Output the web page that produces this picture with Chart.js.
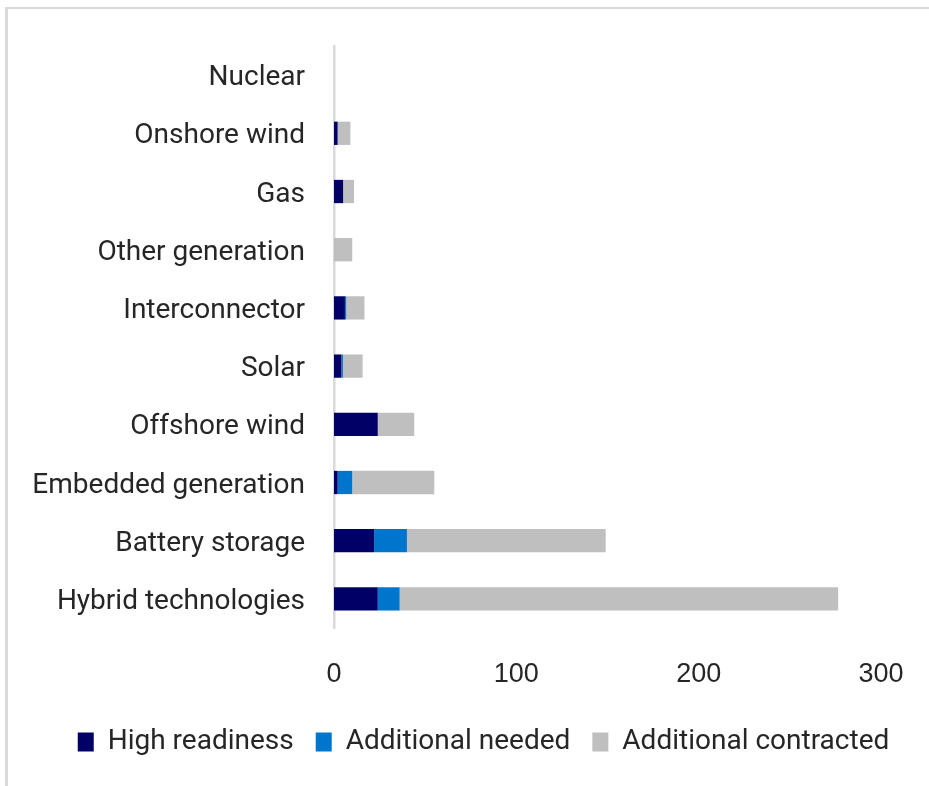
<!DOCTYPE html>
<html>
<head>
<meta charset="utf-8">
<script src="https://cdn.jsdelivr.net/npm/chart.js@4/dist/chart.umd.min.js"></script>
<style>
  html, body { margin: 0; padding: 0; background: #ffffff; overflow: hidden; }
  #frame {
    position: absolute; left: 5px; top: 7px; width: 1000px; height: 900px;
    border-left: 3px solid #d9d9d9; border-top: 2px solid #d9d9d9;
    box-sizing: border-box;
  }
  #c { position: absolute; left: 0; top: 0; }
</style>
</head>
<body>
<div id="frame"></div>
<canvas id="c" width="929" height="786"></canvas>
<script>
const categories = [
  'Nuclear', 'Onshore wind', 'Gas', 'Other generation', 'Interconnector',
  'Solar', 'Offshore wind', 'Embedded generation', 'Battery storage', 'Hybrid technologies'
];
const highReadiness        = [0, 2, 5, 0, 6, 4, 24, 2, 22, 24];
const additionalNeeded     = [0, 0, 0, 0, 0.7, 0.9, 0, 8, 18, 12];
const additionalContracted = [0, 7, 6, 10, 10, 10.8, 20, 45, 109, 240.5];
const xTicks = [0, 100, 200, 300];

const textColor = '#262626';
const labelFont = "Roboto, 'Liberation Sans', sans-serif";

// Shift the legend row a little to the right of the canvas centre.
const legendSpan = {
  id: 'legendSpan',
  afterLayout(chart) {
    chart.legend.left = 19;
    chart.legend.right = 948;
  }
};

new Chart(document.getElementById('c'), {
  type: 'bar',
  data: {
    labels: categories,
    datasets: [
      { label: 'High readiness', data: highReadiness, backgroundColor: '#000066' },
      { label: 'Additional needed', data: additionalNeeded, backgroundColor: '#0075CC' },
      { label: 'Additional contracted', data: additionalContracted, backgroundColor: '#BFBFBF' }
    ]
  },
  plugins: [legendSpan],
  options: {
    indexAxis: 'y',
    responsive: false,
    animation: false,
    layout: { padding: { left: 0, right: 48, top: 46, bottom: 20 } },
    datasets: { bar: { barPercentage: 0.4, categoryPercentage: 1 } },
    scales: {
      x: {
        stacked: true,
        min: 0, max: 300,
        afterBuildTicks: s => { s.ticks = xTicks.map(v => ({ value: v })); },
        grid: { display: false, drawTicks: false },
        border: { display: false },
        ticks: {
          color: textColor,
          padding: 30,
          font: { family: "'Liberation Sans', Arial, sans-serif", size: 27 }
        },
        afterFit: s => { s.height = 78; s.paddingLeft = 0; s.paddingRight = 0; }
      },
      y: {
        stacked: true,
        grid: { display: false, drawTicks: false },
        border: { display: true, color: '#d9d9d9', width: 2.5 },
        ticks: {
          color: textColor,
          padding: 29,
          labelOffset: 3,
          font: { family: labelFont, size: 28 }
        },
        afterFit: s => { s.width = 334; }
      }
    },
    plugins: {
      tooltip: { enabled: false },
      legend: {
        position: 'bottom',
        labels: {
          color: textColor,
          boxWidth: 16,
          boxHeight: 19,
          padding: 22,
          font: { family: labelFont, size: 28 }
        }
      }
    }
  }
});
</script>
</body>
</html>
